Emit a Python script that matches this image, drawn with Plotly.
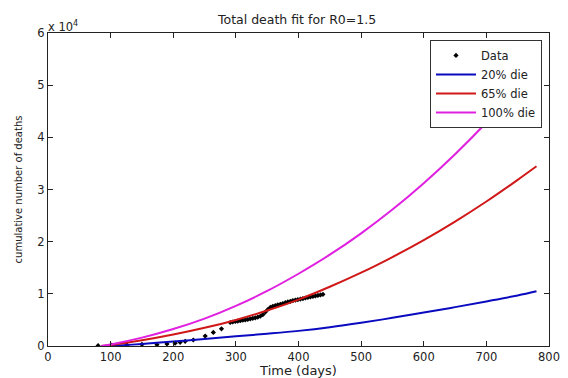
import plotly.graph_objects as go

# Observed cumulative deaths
data_days = [80, 102, 126, 150, 174, 190, 203, 211, 219, 232, 251, 264, 277,
             291, 295, 299, 303, 307, 311, 315, 319, 323, 327, 331, 335, 339, 343,
             347, 351, 355, 359, 363, 367, 371, 375, 379, 383, 387, 391, 395, 399,
             403, 407, 411, 415, 419, 423, 427, 431, 435, 439]
data_deaths = [60, 150, 200, 300, 250, 400, 550, 700, 900, 1150, 1900, 2600, 3300,
               4500, 4600, 4700, 4750, 4850, 4950, 5000, 5100, 5200, 5300, 5400, 5550, 5700, 6000,
               6500, 7000, 7400, 7600, 7750, 7900, 8000, 8150, 8300, 8450, 8550, 8700, 8800, 8900,
               9000, 9100, 9200, 9300, 9400, 9500, 9600, 9700, 9800, 9900]

# Model fits
fit_days = [85, 100, 150, 200, 250, 300, 350, 400, 450, 500, 550, 600, 650, 700, 750, 780]
fit_20 = [0, 50, 400, 850, 1350, 1850, 2350, 2900, 3600, 4450, 5400, 6400, 7450, 8550, 9700, 10500]
fit_65 = [0, 200, 1100, 2200, 3500, 5000, 6800, 8900, 11350, 14050, 17050, 20300, 23850, 27700, 31850, 34450]
fit_100 = [0, 300, 1600, 3250, 5250, 7700, 10550, 13850, 17500, 21600, 26150, 31200, 36750, 42850, 49500, 53700]

x_ticks = [0, 100, 200, 300, 400, 500, 600, 700, 800]
y_ticks = [0, 10000, 20000, 30000, 40000, 50000, 60000]
y_ticktext = ["0", "1", "2", "3", "4", "5", "6"]

FONT = "DejaVu Sans, Verdana, sans-serif"

fig = go.Figure()
fig.add_trace(go.Scatter(x=data_days, y=data_deaths, mode="markers", name="Data",
                         marker=dict(color="black", size=4, symbol="diamond")))
fig.add_trace(go.Scatter(x=fit_days, y=fit_20, mode="lines", name="20% die",
                         line=dict(color="#0a0ac0", width=2, shape="spline", smoothing=1)))
fig.add_trace(go.Scatter(x=fit_days, y=fit_65, mode="lines", name="65% die",
                         line=dict(color="#d01818", width=2, shape="spline", smoothing=1)))
fig.add_trace(go.Scatter(x=fit_days, y=fit_100, mode="lines", name="100% die",
                         line=dict(color="#e020e0", width=2, shape="spline", smoothing=1)))

fig.update_layout(
    width=568, height=378,
    margin=dict(l=48, r=19, t=33, b=32, autoexpand=False),
    paper_bgcolor="white", plot_bgcolor="white",
    font=dict(family=FONT, size=12, color="#222"),
    showlegend=True,
    legend=dict(x=0.986, y=0.978, xanchor="right", yanchor="top",
                bgcolor="white", bordercolor="#333", borderwidth=1,
                font=dict(family=FONT, size=11.5, color="#222"), tracegroupgap=0,
                itemwidth=40),
    title=dict(text="Total death fit for R0=1.5", x=0.523, xanchor="center",
               xref="container", y=0.947, yanchor="middle", yref="container",
               font=dict(family=FONT, size=12.5, color="#222")),
    xaxis=dict(range=[0, 800], tickvals=x_ticks, automargin=False,
               ticks="inside", ticklen=5, tickcolor="#222", showline=True, linecolor="#222",
               linewidth=1, mirror="ticks", showgrid=False, zeroline=False,
               tickfont=dict(family=FONT, size=11.5, color="#222"),
               title=dict(text="Time (days)", font=dict(family=FONT, size=13, color="#222"), standoff=3)),
    yaxis=dict(range=[0, 60000], tickvals=y_ticks, ticktext=y_ticktext, automargin=False,
               ticks="inside", ticklen=5, tickcolor="#222", showline=True, linecolor="#222",
               linewidth=1, mirror="ticks", showgrid=False, zeroline=False,
               tickfont=dict(family=FONT, size=11.5, color="#222"),
               title=dict(text="cumulative number of deaths", font=dict(family=FONT, size=10, color="#222"), standoff=12)),
    annotations=[dict(text="x 10<sup>4</sup>", xref="paper", yref="paper", x=0.0, y=1.0,
                      xanchor="left", yanchor="bottom", showarrow=False,
                      font=dict(family=FONT, size=11.5, color="#222"), xshift=-2, yshift=-3)],
)

fig.write_html("out.html")
